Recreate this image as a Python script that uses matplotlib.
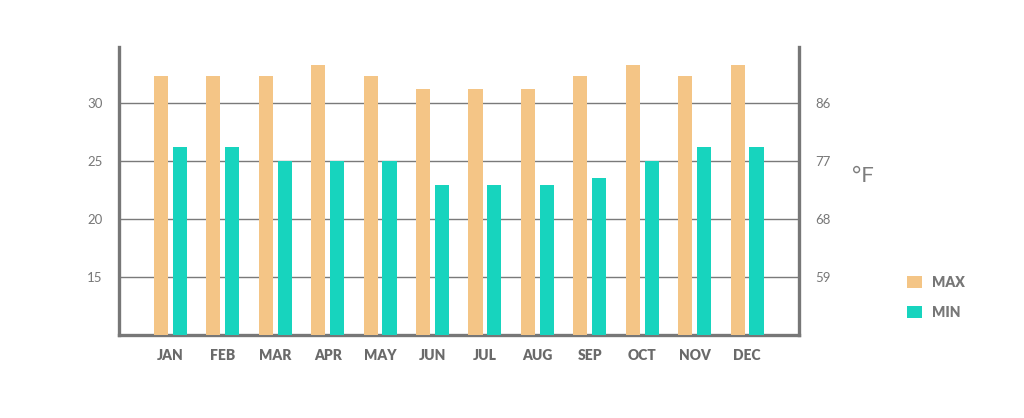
#!/usr/bin/env python3
"""Monthly max / min temperature bars, °C on the left and °F on the right."""

import numpy as np
import matplotlib

matplotlib.use("Agg")
import matplotlib.pyplot as plt
from matplotlib.patches import Patch

months = ["JAN", "FEB", "MAR", "APR", "MAY", "JUN",
          "JUL", "AUG", "SEP", "OCT", "NOV", "DEC"]
temp_max = [32.3, 32.3, 32.3, 33.3, 32.3, 31.2, 31.2, 31.2, 32.3, 33.3, 32.3, 33.3]
temp_min = [26.2, 26.2, 25.0, 25.0, 25.0, 22.9, 22.9, 22.9, 23.5, 25.0, 26.2, 26.2]
c_ticks = [15, 20, 25, 30]
f_ticks = [59, 68, 77, 86]
series_labels = ["MAX", "MIN"]

C_MAX = "#F4C586"
C_MIN = "#17D4BE"
AXIS = "#777777"
TEXT = "#777777"

plt.rcParams["font.family"] = ["Lato", "DejaVu Sans"]

fig = plt.figure(figsize=(10.24, 4.18), dpi=100)
ax = fig.add_axes([0.1162, 0.1986, 0.6641, 0.6882])

x = np.arange(len(months))
w = 0.27
ax.bar(x - 0.18, temp_max, width=w, color=C_MAX, zorder=3)
ax.bar(x + 0.18, temp_min, width=w, color=C_MIN, zorder=3)

ylo, yhi = 10, 34.8
ax.set_ylim(ylo, yhi)
ax.set_xlim(-0.98, 11.99)
ax.set_yticks(c_ticks)
ax.set_xticks(x)
ax.set_xticklabels(months, fontweight="heavy", fontsize=10, color="#6a6a6a")
ax.tick_params(axis="x", length=0, pad=10)
ax.tick_params(axis="y", length=0, pad=12, labelsize=9.5, labelcolor=TEXT)
ax.yaxis.grid(True, color="#7a7a7a", linewidth=1)
ax.set_axisbelow(True)

for side in ("left", "right", "bottom"):
    ax.spines[side].set_color(AXIS)
    ax.spines[side].set_linewidth(2.4)
ax.spines["top"].set_visible(False)

# right axis in Fahrenheit, same scale
ax2 = ax.twinx()
ax2.set_ylim(ylo * 1.8 + 32, yhi * 1.8 + 32)
ax2.set_yticks(f_ticks)
ax2.tick_params(axis="y", length=0, pad=12, labelsize=9.5, labelcolor=TEXT)
for s in ax2.spines.values():
    s.set_visible(False)

fig.text(0.832, 0.578, "°F", fontsize=16, color="#7d7d7d", ha="left", va="center")

handles = [Patch(facecolor=C_MAX, edgecolor="none"),
           Patch(facecolor=C_MIN, edgecolor="none")]
leg = fig.legend(handles, series_labels, loc="upper left",
                 bbox_to_anchor=(0.8857, 0.34), frameon=False,
                 prop={"family": "Lato", "weight": "heavy", "size": 10},
                 handlelength=1.08, handleheight=1.0,
                 handletextpad=0.72, labelspacing=1.2,
                 borderpad=0, borderaxespad=0)
for t in leg.get_texts():
    t.set_color(TEXT)

fig.savefig("out.png", dpi=100)
